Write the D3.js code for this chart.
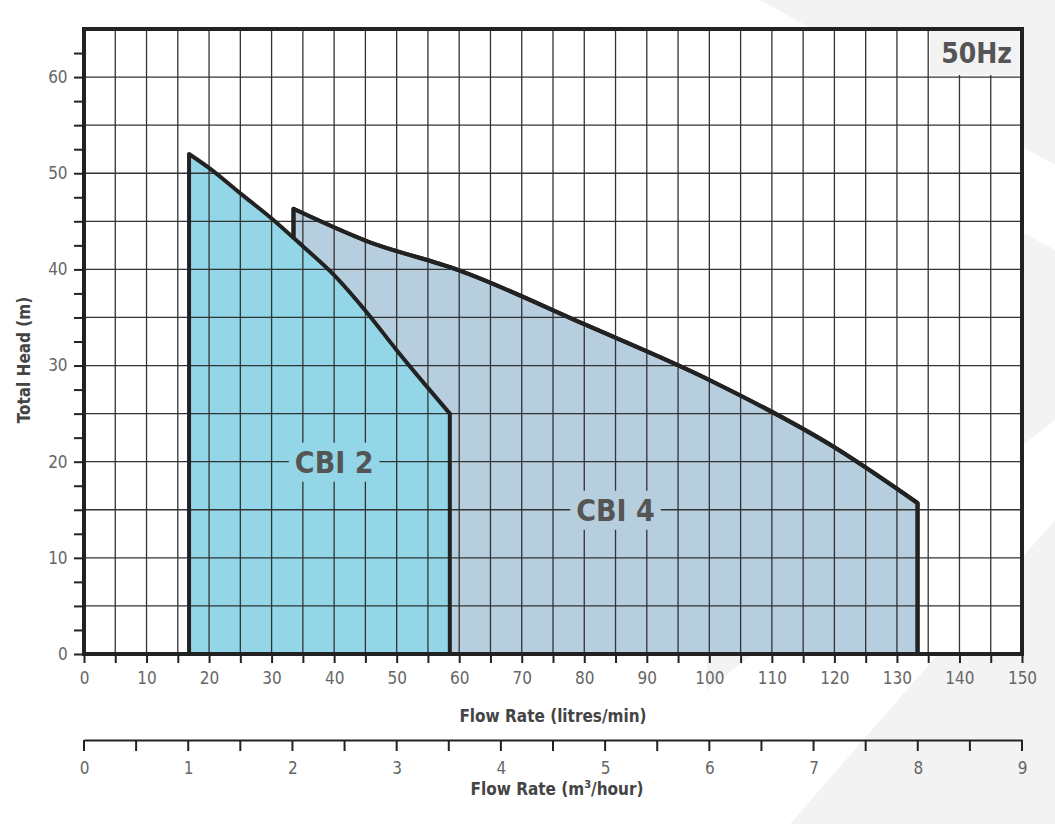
<!DOCTYPE html><html><head><meta charset="utf-8">
<script src="https://cdn.jsdelivr.net/npm/d3@7"></script>
<style>body{margin:0;background:#fff}text{font-family:"DejaVu Sans Condensed","Roboto Condensed",Roboto,sans-serif}</style>
</head><body><svg id="c" width="1055" height="824"></svg>
<script>
const cbi2 = [[16.8,0],[16.8,52],[20.1,50.5],[25,47.9],[30,45.3],[35,42.4],[40,39.4],[45,35.7],[50,31.6],[55.1,27.6],[58.5,25],[58.5,0]];
const cbi4 = [[33.5,0],[33.5,46.3],[45,43.0],[60,39.9],[80,34.3],[100,28.5],[120,21.5],[133.3,15.7],[133.3,0]];
const xTicks = d3.range(0,151,10);
const yTicks = [0,10,20,30,40,50,60];
const m3Ticks = d3.range(0,10,1);
const labels = [{t:"CBI 2",x:40,y:20,c:"#92d6e8"},{t:"CBI 4",x:85,y:15,c:"#b6cedd"}];

const svg=d3.select("#c");
const x=d3.scaleLinear().domain([0,150]).range([84,1022]);
const y=d3.scaleLinear().domain([0,65]).range([654,29]);
const x2=d3.scaleLinear().domain([0,9]).range([84,1022]);

// watermark
svg.append("rect").attr("x",707).attr("y",0).attr("width",348).attr("height",824).attr("fill","#f3f3f3");
svg.append("polygon").attr("points","707,0 760,0 1055,165 1055,250 707,60").attr("fill","#fff");
svg.append("polygon").attr("points","707,60 920,160 707,560").attr("fill","#fafafa");
svg.append("polygon").attr("points","707,690 1055,420 1055,520 790,824 707,824").attr("fill","#fff");

svg.append("rect").attr("x",84).attr("y",29).attr("width",938).attr("height",625).attr("fill","#fff");

const line2=d3.line().x(d=>x(d[0])).y(d=>y(d[1])).curve(d3.curveMonotoneX);
function path(data){return "M"+x(data[0][0])+","+y(data[0][1])+line2(data.slice(1,-1)).replace(/^M/,"L")+"L"+x(data[data.length-1][0])+","+y(data[data.length-1][1]);}
function grid(){
 const g=svg.append("g");
 d3.range(5,150,5).forEach(v=>g.append("line").attr("x1",x(v)).attr("x2",x(v)).attr("y1",y(0)).attr("y2",y(65)).attr("stroke","#333").attr("stroke-width",1.3));
 d3.range(5,65,5).forEach(v=>g.append("line").attr("x1",x(0)).attr("x2",x(150)).attr("y1",y(v)).attr("y2",y(v)).attr("stroke","#333").attr("stroke-width",1.3));
}
svg.append("path").attr("d",path(cbi4)).attr("fill","#b6cedd");
svg.append("path").attr("d",path(cbi4)).attr("fill","none").attr("stroke","#222").attr("stroke-width",4).attr("stroke-linejoin","round");
svg.append("path").attr("d",path(cbi2)).attr("fill","#92d6e8");
grid();
svg.append("path").attr("d",path(cbi4)).attr("fill","none").attr("stroke","#222").attr("stroke-width",4).attr("stroke-linejoin","round")
  .attr("clip-path",null);
svg.append("path").attr("d",path(cbi2)).attr("fill","#92d6e8").attr("opacity",0); 
// redraw cbi4 outline only where outside cbi2 : use clip
const defs=svg.append("defs");
defs.append("mask").attr("id","m").call(mk=>{mk.append("rect").attr("width",1055).attr("height",824).attr("fill","#fff");mk.append("path").attr("d",path(cbi2)).attr("fill","#000");});
svg.selectAll("path").filter(function(){return d3.select(this).attr("stroke")&&this.getAttribute("d")===path(cbi4);}).attr("mask","url(#m)");
svg.append("path").attr("d",path(cbi2)).attr("fill","none").attr("stroke","#222").attr("stroke-width",4).attr("stroke-linejoin","round");

// 50Hz box
svg.append("rect").attr("x",930).attr("y",31).attr("width",90).attr("height",44).attr("fill","#f3f3f3");
svg.append("text").attr("x",1012).attr("y",63).attr("text-anchor","end").attr("font-size",28).attr("font-weight","bold").attr("fill","#555").text("50Hz");

// labels
labels.forEach(l=>{
 const t=svg.append("text").attr("x",x(l.x)).attr("y",y(l.y)+11).attr("text-anchor","middle").attr("font-size",30).attr("font-weight","bold").attr("fill","#555").text(l.t);
 const b=t.node().getBBox();
 svg.insert("rect","text:last-of-type").attr("x",b.x-6).attr("y",b.y-2).attr("width",b.width+12).attr("height",b.height+4).attr("fill",l.c);
});

// frame
svg.append("rect").attr("x",84).attr("y",29).attr("width",938).attr("height",625).attr("fill","none").attr("stroke","#222").attr("stroke-width",4);

const xa=svg.append("g").attr("transform","translate(0,654)").call(d3.axisBottom(x).tickValues(d3.range(0,151,5)).tickSize(9).tickFormat(d=>d%10===0?d:""));
xa.select(".domain").remove();
xa.selectAll("line").attr("stroke","#222").attr("stroke-width",2);
xa.selectAll("text").attr("font-size",17).attr("fill","#666").attr("dy","1.05em");
svg.append("text").attr("x",553).attr("y",722).attr("text-anchor","middle").attr("font-size",17).attr("font-weight","bold").attr("fill","#444").text("Flow Rate (litres/min)");

const ya=svg.append("g").attr("transform","translate(84,0)").call(d3.axisLeft(y).tickValues(d3.range(0,65,2.5)).tickSize(10).tickFormat(d=>yTicks.includes(d)?d:""));
ya.select(".domain").remove();
ya.selectAll("line").attr("stroke","#222").attr("stroke-width",2);
ya.selectAll("text").attr("font-size",17).attr("fill","#666").attr("dx","-0.2em");
svg.append("text").attr("transform","translate(30,360) rotate(-90)").attr("text-anchor","middle").attr("font-size",17).attr("font-weight","bold").attr("fill","#444").text("Total Head (m)");

const x2a=svg.append("g").attr("transform","translate(0,740)").call(d3.axisBottom(x2).tickValues(d3.range(0,9.01,0.5)).tickSizeOuter(0).tickFormat(d=>Number.isInteger(d)?d:""));
x2a.selectAll("line").remove();
x2a.select(".domain").attr("stroke","#222").attr("stroke-width",2);
d3.range(0,9.01,0.5).forEach(v=>svg.append("line").attr("x1",x2(v)).attr("x2",x2(v)).attr("y1",740).attr("y2",751).attr("stroke","#222").attr("stroke-width",2));
x2a.selectAll("text").attr("font-size",17).attr("fill","#666").attr("dy","1.45em");
const ft=svg.append("text").attr("x",557).attr("y",795).attr("text-anchor","middle").attr("font-size",17).attr("font-weight","bold").attr("fill","#444");
ft.append("tspan").text("Flow Rate (m");
ft.append("tspan").attr("font-size",11).attr("dy",-7).text("3");
ft.append("tspan").attr("dy",7).text("/hour)");
</script></body></html>
